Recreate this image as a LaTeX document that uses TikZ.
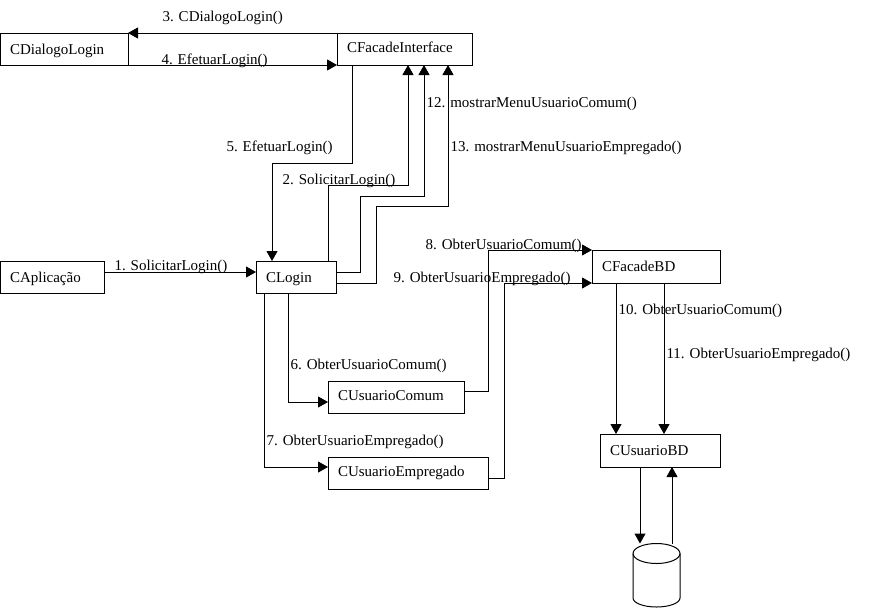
\documentclass[tikz,border=0pt]{standalone}
\usepackage{fontspec}
\setmainfont{Liberation Serif}
\usetikzlibrary{arrows.meta}

\begin{document}
\begin{tikzpicture}[x=1pt,y=-1pt,font=\fontsize{15}{18}\selectfont,line width=1pt,
  box/.style={draw,anchor=north west,outer sep=0pt,inner xsep=10pt,inner ysep=0pt,minimum height=32pt,text width=#1-20pt,text height=10pt,text depth=3pt,align=left},
  low/.style={text depth=0pt},
  msg/.style={anchor=west,inner sep=0pt},
  call/.style={-{Triangle[length=10pt,width=11pt]}}
]
  \useasboundingbox (0,0) rectangle (882,608);
  % classes
  \node[box=128,low] (dialogo) at (0,33) {CDialogoLogin};
  \node[box=135] (interface) at (337,33) {CFacadeInterface};
  \node[box=104,low] (aplicacao) at (0,261) {CAplicação};
  \node[box=80,low] (login) at (256,261) {CLogin};
  \node[box=136] (comum) at (328,381) {CUsuarioComum};
  \node[box=160] (empregado) at (328,457) {CUsuarioEmpregado};
  \node[box=128,low,minimum height=33pt] (facadebd) at (592,250) {CFacadeBD};
  \node[box=120,low,minimum height=33pt] (usuariobd) at (600,434) {CUsuarioBD};
  % database
  \coordinate (banco) at (656.5,543.5);
  \draw (633,553.5) arc[start angle=180,end angle=0,x radius=23.5pt,y radius=10pt] -- (680,598)
    arc[start angle=0,end angle=-180,x radius=23.5pt,y radius=9pt] -- cycle;
  \draw (633,553.5) arc[start angle=180,end angle=360,x radius=23.5pt,y radius=10pt];
  % messages
  \node[msg] (m1) at (114,267) {1. SolicitarLogin()};
  \node[msg] (m2) at (282,181) {2. SolicitarLogin()};
  \node[msg] (m3) at (162,18) {3. CDialogoLogin()};
  \node[msg] (m4) at (161,61) {4. EfetuarLogin()};
  \node[msg] (m5) at (226,148) {5. EfetuarLogin()};
  \node[msg] (m6) at (290,366) {6. ObterUsuarioComum()};
  \node[msg] (m7) at (266,442) {7. ObterUsuarioEmpregado()};
  \node[msg] (m8) at (425,246) {8. ObterUsuarioComum()};
  \node[msg] (m9) at (393,279) {9. ObterUsuarioEmpregado()};
  \node[msg] (m10) at (618,311) {10. ObterUsuarioComum()};
  \node[msg] (m11) at (666,355) {11. ObterUsuarioEmpregado()};
  \node[msg] (m12) at (426,104) {12. mostrarMenuUsuarioComum()};
  \node[msg] (m13) at (450,148) {13. mostrarMenuUsuarioEmpregado()};
  % connectors
  \draw[call] ([yshift=5pt]aplicacao.east) -- ([yshift=5pt]login.west);
  \draw[call] ([xshift=72pt]login.north west) |- (408,185) -- ([xshift=71pt]interface.south west);
  \draw[call] (interface.north west) -- (dialogo.north east);
  \draw[call] (dialogo.south east) -- (interface.south west);
  \draw[call] ([xshift=15pt]interface.south west) |- (272,163) -- ([xshift=16pt]login.north west);
  \draw[call] ([xshift=32pt]login.south west) |- ([yshift=-5pt]comum.west);
  \draw[call] ([xshift=8pt]login.south west) |- ([yshift=6pt]empregado.west);
  \draw[call] ([yshift=6pt]comum.east) -| (488,250) -- (facadebd.north west);
  \draw[call] ([yshift=-5pt]empregado.east) -| (504,283) -- (facadebd.south west);
  \draw[call] ([xshift=24pt]facadebd.south west) -- ([xshift=16pt]usuariobd.north west);
  \draw[call] ([xshift=72pt]facadebd.south west) -- ([xshift=64pt]usuariobd.north west);
  \draw[call] ([xshift=40pt]usuariobd.south west) -- ([xshift=-16.5pt]banco);
  \draw[call] ([xshift=15.5pt]banco) -- ([xshift=72pt]usuariobd.south west);
  \draw[call] ([yshift=5pt]login.east) -- ++(24,0) |- (424,196) -- ([xshift=87pt]interface.south west);
  \draw[call] ([yshift=-6pt]login.east) -- ++(40,0) |- (448,206) -- ([xshift=111pt]interface.south west);
\end{tikzpicture}
\end{document}
